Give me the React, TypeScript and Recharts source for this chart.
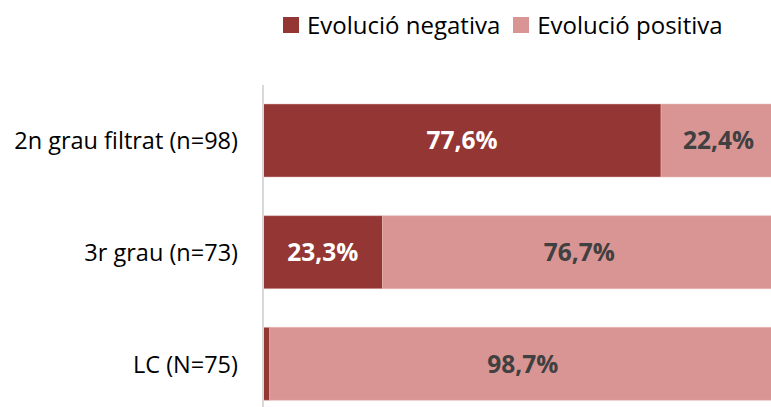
import React from "react";
import { BarChart, Bar, XAxis, YAxis, LabelList } from "recharts";

const categories = ["2n grau filtrat (n=98)", "3r grau (n=73)", "LC (N=75)"];
const negativa = [77.6, 23.3, 1.3];
const positiva = [22.4, 76.7, 98.7];

const COLORS = { negativa: "#943634", positiva: "#d99594" };
const FONT = "'Open Sans', sans-serif";

const data = categories.map((name, i) => ({ name, negativa: negativa[i], positiva: positiva[i] }));

const fmt = (v: number) => (v < 5 ? "" : v.toFixed(1).replace(".", ",") + "%");

const legendItems = [
  { label: "Evolució negativa", color: COLORS.negativa },
  { label: "Evolució positiva", color: COLORS.positiva },
];

export default function App() {
  return (
    <div style={{ position: "absolute", top: 0, left: 0, width: 771, height: 407, overflow: "hidden", background: "#fff" }}>
      <div style={{ position: "absolute", top: 9, left: 283, display: "flex", fontFamily: FONT, fontSize: 24, color: "#000", lineHeight: "32px", whiteSpace: "nowrap" }}>
        {legendItems.map((it) => (
          <div key={it.label} style={{ display: "flex", alignItems: "center", marginRight: 13 }}>
            <span style={{ display: "inline-block", width: 16, height: 16, background: it.color, marginRight: 8 }} />
            <span>{it.label}</span>
          </div>
        ))}
      </div>
      {/* plot runs past the right edge like the original crop */}
      <BarChart
        width={777}
        height={420}
        data={data}
        layout="vertical"
        margin={{ top: 85, right: 1, bottom: 0, left: 0 }}
        barSize={73}
      >
        <XAxis type="number" domain={[0, 100]} hide />
        <YAxis
          type="category"
          dataKey="name"
          width={263}
          axisLine={{ stroke: "#d9d9d9", strokeWidth: 2 }}
          tickLine={false}
          tickSize={0}
          tickMargin={25}
          tick={{ fill: "#000", fontSize: 23.5, fontFamily: FONT }}
        />
        <Bar dataKey="negativa" stackId="a" fill={COLORS.negativa} stroke="#e6b8b7" strokeWidth={0.5} isAnimationActive={false}>
          <LabelList dataKey="negativa" position="center" formatter={fmt} fill="#fff" fontSize={24.5} fontWeight={700} fontFamily={FONT} />
        </Bar>
        <Bar dataKey="positiva" stackId="a" fill={COLORS.positiva} stroke="#e6b8b7" strokeWidth={0.5} isAnimationActive={false}>
          <LabelList dataKey="positiva" position="center" formatter={fmt} fill="#404040" fontSize={24.5} fontWeight={700} fontFamily={FONT} />
        </Bar>
      </BarChart>
    </div>
  );
}
